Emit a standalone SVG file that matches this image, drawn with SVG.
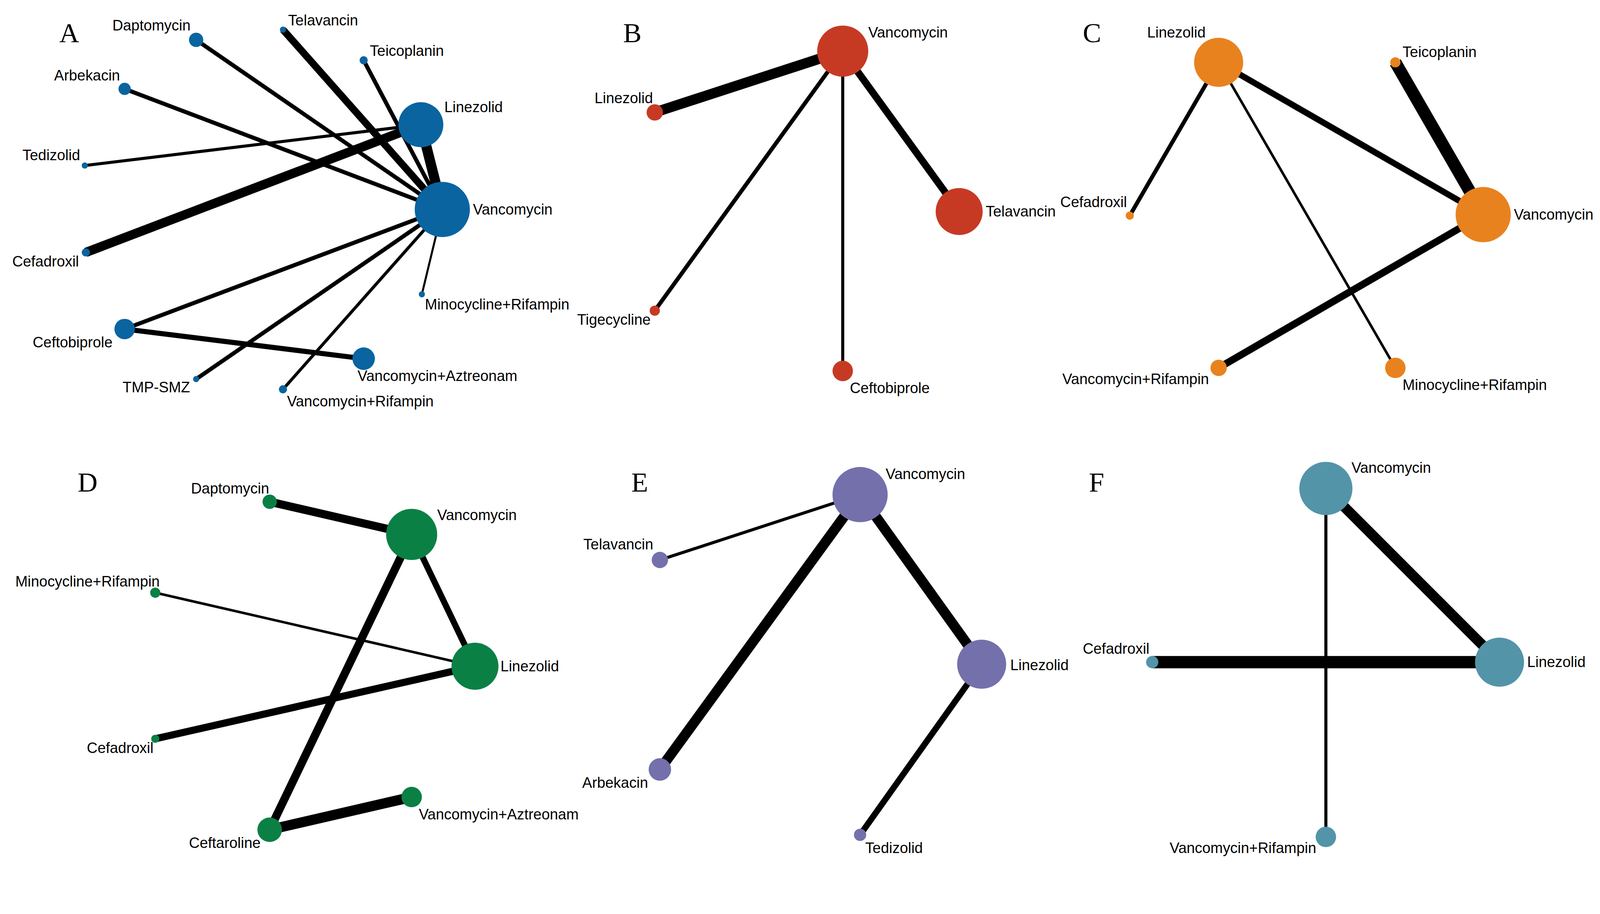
<svg xmlns="http://www.w3.org/2000/svg" width="4320" height="2339" viewBox="0 0 4320 2339">
<style>
text{font-family:"Liberation Sans",Arial,sans-serif;font-size:14.5px;fill:#000;dominant-baseline:middle}
text.p{font-family:"Liberation Serif","Times New Roman",serif;font-size:27px}
line{stroke:#000;stroke-linecap:butt}
.a{fill:#0a64a0}.b{fill:#c63a24}.c{fill:#e8821e}.d{fill:#0a8044}.e{fill:#7370ab}.f{fill:#5394a8}
</style>
<rect width="4320" height="2339" fill="#fff"/>
<g transform="scale(2.615)">
<g id="connectors">
<line x1="433" y1="205" x2="192" y2="39" stroke-width="4"/>
<line x1="433" y1="205" x2="277" y2="29" stroke-width="7"/>
<line x1="433" y1="205" x2="356" y2="59" stroke-width="4"/>
<line x1="433" y1="205" x2="122" y2="87" stroke-width="4"/>
<line x1="433" y1="205" x2="412" y2="122" stroke-width="10"/>
<line x1="412" y1="122" x2="83" y2="162" stroke-width="3"/>
<line x1="412" y1="122" x2="84" y2="247" stroke-width="9"/>
<line x1="433" y1="205" x2="413" y2="288" stroke-width="2"/>
<line x1="433" y1="205" x2="122" y2="322" stroke-width="4"/>
<line x1="433" y1="205" x2="192" y2="371" stroke-width="4"/>
<line x1="433" y1="205" x2="277" y2="381" stroke-width="3"/>
<line x1="122" y1="322" x2="356" y2="351" stroke-width="5"/>
<line x1="825" y1="50" x2="641" y2="110" stroke-width="10"/>
<line x1="825" y1="50" x2="939" y2="207" stroke-width="7"/>
<line x1="825" y1="50" x2="641" y2="304" stroke-width="4"/>
<line x1="825" y1="50" x2="825" y2="363" stroke-width="3"/>
<line x1="1193" y1="61" x2="1452" y2="210" stroke-width="6"/>
<line x1="1366" y1="61" x2="1452" y2="210" stroke-width="12"/>
<line x1="1193" y1="61" x2="1106" y2="211" stroke-width="4"/>
<line x1="1193" y1="61" x2="1366" y2="360" stroke-width="2.5"/>
<line x1="1452" y1="210" x2="1193" y2="360" stroke-width="7"/>
<line x1="264" y1="491" x2="403" y2="523" stroke-width="8"/>
<line x1="403" y1="523" x2="465" y2="652" stroke-width="6"/>
<line x1="152" y1="580" x2="465" y2="652" stroke-width="2.5"/>
<line x1="152" y1="723" x2="465" y2="652" stroke-width="7"/>
<line x1="403" y1="523" x2="264" y2="812" stroke-width="8"/>
<line x1="264" y1="812" x2="403" y2="780" stroke-width="10"/>
<line x1="842" y1="484" x2="646" y2="548" stroke-width="3"/>
<line x1="842" y1="484" x2="646" y2="753" stroke-width="10"/>
<line x1="842" y1="484" x2="961" y2="650" stroke-width="10"/>
<line x1="961" y1="650" x2="842" y2="817" stroke-width="6"/>
<line x1="1298" y1="478" x2="1468" y2="648" stroke-width="10"/>
<line x1="1128" y1="648" x2="1468" y2="648" stroke-width="12"/>
<line x1="1298" y1="478" x2="1298" y2="819" stroke-width="3"/>
</g>
<g id="panelA">
<text class="p" x="58" y="35">A</text>
<g id="A-vanc"><circle class="a" cx="433" cy="205" r="27"/><text x="463" y="206">Vancomycin</text></g>
<g id="A-lin"><circle class="a" cx="412" cy="122" r="22"/><text x="435" y="106">Linezolid</text></g>
<g id="A-dap"><circle class="a" cx="192" cy="39" r="7"/><text x="110" y="26">Daptomycin</text></g>
<g id="A-tel"><circle class="a" cx="277" cy="29" r="3"/><text x="282" y="21">Telavancin</text></g>
<g id="A-tei"><circle class="a" cx="356" cy="59" r="4"/><text x="362" y="51">Teicoplanin</text></g>
<g id="A-arb"><circle class="a" cx="122" cy="87" r="6"/><text x="53" y="75">Arbekacin</text></g>
<g id="A-ted"><circle class="a" cx="83" cy="162" r="3"/><text x="22" y="153">Tedizolid</text></g>
<g id="A-cef"><circle class="a" cx="84" cy="247" r="4"/><text x="12" y="257">Cefadroxil</text></g>
<g id="A-ceft"><circle class="a" cx="122" cy="322" r="10"/><text x="32" y="336">Ceftobiprole</text></g>
<g id="A-tmp"><circle class="a" cx="192" cy="371" r="3"/><text x="120" y="380">TMP-SMZ</text></g>
<g id="A-vr"><circle class="a" cx="277" cy="381" r="4"/><text x="281" y="394">Vancomycin+Rifampin</text></g>
<g id="A-va"><circle class="a" cx="356" cy="351" r="11"/><text x="350" y="369">Vancomycin+Aztreonam</text></g>
<g id="A-mr"><circle class="a" cx="413" cy="288" r="3"/><text x="416" y="299">Minocycline+Rifampin</text></g>
</g>
<g id="panelB">
<text class="p" x="610" y="35">B</text>
<g id="B-vanc"><circle class="b" cx="825" cy="50" r="25"/><text x="850" y="33">Vancomycin</text></g>
<g id="B-lin"><circle class="b" cx="641" cy="110" r="8"/><text x="582" y="97">Linezolid</text></g>
<g id="B-tel"><circle class="b" cx="939" cy="207" r="23"/><text x="965" y="208">Telavancin</text></g>
<g id="B-tig"><circle class="b" cx="641" cy="304" r="5"/><text x="565" y="314">Tigecycline</text></g>
<g id="B-ceft"><circle class="b" cx="825" cy="363" r="10"/><text x="832" y="381">Ceftobiprole</text></g>
</g>
<g id="panelC">
<text class="p" x="1060" y="35">C</text>
<g id="C-lin"><circle class="c" cx="1193" cy="61" r="24"/><text x="1123" y="33">Linezolid</text></g>
<g id="C-tei"><circle class="c" cx="1366" cy="61" r="5"/><text x="1373" y="52">Teicoplanin</text></g>
<g id="C-cef"><circle class="c" cx="1106" cy="211" r="4"/><text x="1038" y="199">Cefadroxil</text></g>
<g id="C-vanc"><circle class="c" cx="1452" cy="210" r="27"/><text x="1482" y="211">Vancomycin</text></g>
<g id="C-vr"><circle class="c" cx="1193" cy="360" r="8"/><text x="1040" y="372">Vancomycin+Rifampin</text></g>
<g id="C-mr"><circle class="c" cx="1366" cy="360" r="10"/><text x="1373" y="378">Minocycline+Rifampin</text></g>
</g>
<g id="panelD">
<text class="p" x="76" y="475">D</text>
<g id="D-vanc"><circle class="d" cx="403" cy="523" r="25"/><text x="428" y="505">Vancomycin</text></g>
<g id="D-dap"><circle class="d" cx="264" cy="491" r="7"/><text x="187" y="479">Daptomycin</text></g>
<g id="D-mr"><circle class="d" cx="152" cy="580" r="5"/><text x="15" y="570">Minocycline+Rifampin</text></g>
<g id="D-lin"><circle class="d" cx="465" cy="652" r="23"/><text x="490" y="653">Linezolid</text></g>
<g id="D-cef"><circle class="d" cx="152" cy="723" r="4"/><text x="85" y="733">Cefadroxil</text></g>
<g id="D-ceft"><circle class="d" cx="264" cy="812" r="12"/><text x="185" y="826">Ceftaroline</text></g>
<g id="D-va"><circle class="d" cx="403" cy="780" r="10"/><text x="410" y="798">Vancomycin+Aztreonam</text></g>
</g>
<g id="panelE">
<text class="p" x="618" y="475">E</text>
<g id="E-vanc"><circle class="e" cx="842" cy="484" r="27"/><text x="867" y="465">Vancomycin</text></g>
<g id="E-tel"><circle class="e" cx="646" cy="548" r="8"/><text x="571" y="534">Telavancin</text></g>
<g id="E-lin"><circle class="e" cx="961" cy="650" r="24"/><text x="989" y="652">Linezolid</text></g>
<g id="E-arb"><circle class="e" cx="646" cy="753" r="11"/><text x="570" y="767">Arbekacin</text></g>
<g id="E-ted"><circle class="e" cx="842" cy="817" r="6"/><text x="847" y="831">Tedizolid</text></g>
</g>
<g id="panelF">
<text class="p" x="1066" y="475">F</text>
<g id="F-vanc"><circle class="f" cx="1298" cy="478" r="26"/><text x="1323" y="459">Vancomycin</text></g>
<g id="F-cef"><circle class="f" cx="1128" cy="648" r="6"/><text x="1060" y="636">Cefadroxil</text></g>
<g id="F-lin"><circle class="f" cx="1468" cy="648" r="24"/><text x="1495" y="649">Linezolid</text></g>
<g id="F-vr"><circle class="f" cx="1298" cy="819" r="10"/><text x="1145" y="831">Vancomycin+Rifampin</text></g>
</g>
</g>
</svg>
